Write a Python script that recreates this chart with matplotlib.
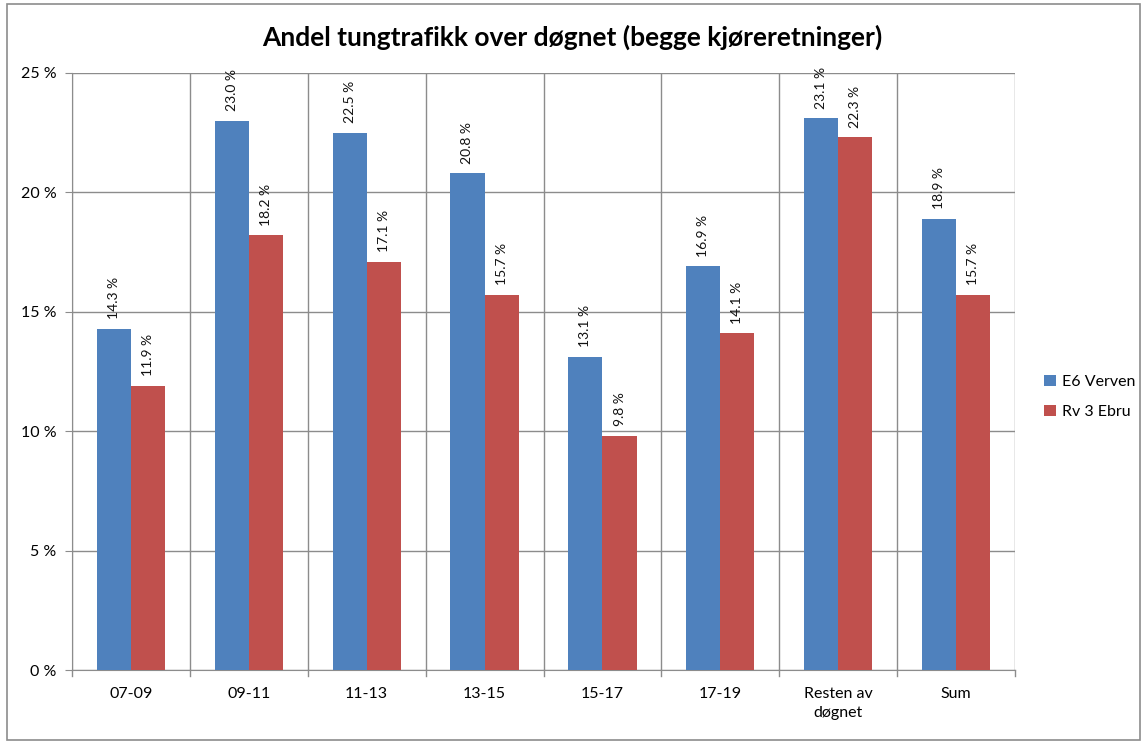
import matplotlib
matplotlib.use("Agg")
import matplotlib.pyplot as plt
import numpy as np
from matplotlib.patches import Rectangle

plt.rcParams['font.family'] = ['Lato', 'DejaVu Sans']

categories = ["07-09", "09-11", "11-13", "13-15", "15-17", "17-19", "Resten av\ndøgnet", "Sum"]
e6_verven = [14.3, 23.0, 22.5, 20.8, 13.1, 16.9, 23.1, 18.9]
rv3_ebru = [11.9, 18.2, 17.1, 15.7, 9.8, 14.1, 22.3, 15.7]
series_names = ["E6 Verven", "Rv 3 Ebru"]
yticks = [0, 5, 10, 15, 20, 25]

blue = "#4F81BD"
red = "#C0504D"
grid_c = "#8C8C8C"

fig = plt.figure(figsize=(11.44, 7.42), dpi=100)
ax = fig.add_axes([72/1144, 1 - 670/742, (1015-72)/1144, (670-73)/742])

x = np.arange(len(categories))
w = 0.29
b1 = ax.bar(x - w/2, e6_verven, w, color=blue, label=series_names[0], zorder=3)
b2 = ax.bar(x + w/2, rv3_ebru, w, color=red, label=series_names[1], zorder=3)

for bars, vals in ((b1, e6_verven), (b2, rv3_ebru)):
    for r, v in zip(bars, vals):
        ax.annotate(f"{v:.1f} %", (r.get_x() + r.get_width()/2, r.get_height()),
                    xytext=(0, 7), textcoords="offset points", rotation=90,
                    ha="center", va="bottom", fontsize=10, color="#111111")

ax.set_xlim(-0.5, len(categories) - 0.5)
ax.set_ylim(0, 25)
ax.set_yticks(yticks)
ax.set_yticklabels([f"{t} %" for t in yticks], fontsize=11.5)
ax.set_xticks(x)
ax.set_xticklabels(categories, fontsize=11.5, linespacing=1.45)
ax.tick_params(axis='x', length=0, pad=12)
ax.tick_params(axis='y', length=5, color=grid_c, pad=6)
for b in np.arange(-0.5, len(categories), 1.0):
    ax.axvline(b, color=grid_c, lw=1, zorder=1)
    ax.plot([b, b], [0, -0.25], color=grid_c, lw=1, clip_on=False, zorder=1)
ax.yaxis.grid(True, color=grid_c, lw=1, zorder=1)
for s in ax.spines.values():
    s.set_visible(False)
ax.spines['left'].set_visible(True)
ax.spines['left'].set_color(grid_c)
ax.spines['bottom'].set_visible(True)
ax.spines['bottom'].set_color(grid_c)

fig.text(0.5, 1 - 37/742, "Andel tungtrafikk over døgnet (begge kjøreretninger)",
         ha="center", va="center", fontsize=19, fontweight="bold")

leg = fig.legend(handles=[b1, b2], labels=series_names, loc="center left",
                 bbox_to_anchor=(1030/1144, 1 - 397/742), frameon=False,
                 fontsize=11.5, handlelength=0.7, handleheight=0.7,
                 handletextpad=0.4, labelspacing=1.0)

fig.patches.append(Rectangle((7/1144, 2/742), 1133/1144, 736/742,
                             transform=fig.transFigure, fill=False,
                             edgecolor="#8C8C8C", lw=1.2))

fig.savefig("out.png", dpi=100)
